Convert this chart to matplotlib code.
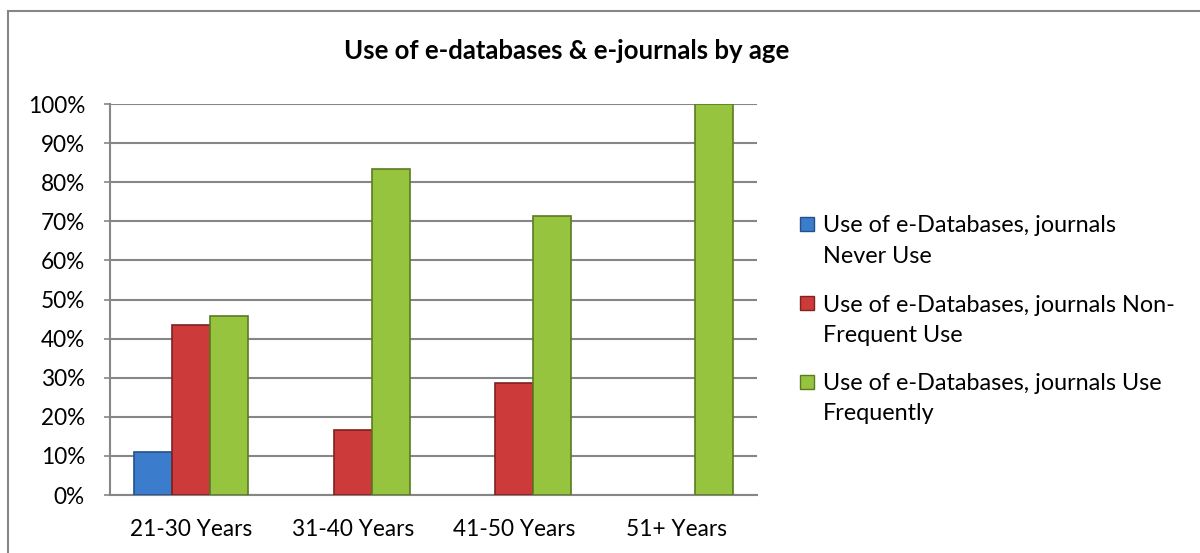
import numpy as np
import matplotlib
matplotlib.use('agg')
import matplotlib.pyplot as plt
from matplotlib.patches import Rectangle

plt.rcParams['font.family'] = ['Lato', 'DejaVu Sans']

# data (percent of each age group)
age_groups = ['21-30 Years', '31-40 Years', '41-50 Years', '51+ Years']
never_use = [10.9, 0, 0, 0]
non_frequent = [43.5, 16.7, 28.6, 0]
use_frequently = [45.7, 83.3, 71.4, 100]
series_labels = [['Use of e-Databases, journals', 'Never Use'],
                 ['Use of e-Databases, journals Non-', 'Frequent Use'],
                 ['Use of e-Databases, journals Use', 'Frequently']]
colors = ['#3b7ccc', '#cc3a3a', '#97c43e']
edges = ['#24508a', '#7e2121', '#5c7a22']

fig = plt.figure(figsize=(12, 5.53), dpi=100)
ax = fig.add_axes([110/1200, 58/553, 647/1200, 391/553])

x = np.arange(len(age_groups))
w = 0.235
for i, vals in enumerate([never_use, non_frequent, use_frequently]):
    bars = ax.bar(x + (i - 1) * w, vals, width=w, color=colors[i],
                  edgecolor=edges[i], linewidth=1.2, zorder=3)
    for b, v in zip(bars, vals):
        if v == 0:
            b.set_visible(False)

ax.set_xlim(-0.5, len(age_groups) - 0.5)
ax.set_ylim(0, 100)
ax.set_yticks(np.arange(0, 101, 10))
ax.set_yticklabels(['%d%%' % v for v in range(0, 101, 10)])
ax.set_xticks(x)
ax.set_xticklabels(age_groups)
ax.yaxis.grid(True, color='#868686', linewidth=1.5, zorder=0)
ax.tick_params(axis='y', length=4, color='#868686', width=1.2, labelsize=16.3, pad=14)
ax.tick_params(axis='x', length=0, labelsize=16.3, pad=17)
for s in ['top', 'right']:
    ax.spines[s].set_visible(False)
for s in ['left', 'bottom']:
    ax.spines[s].set_color('#868686')
    ax.spines[s].set_linewidth(1.5)

fig.text(567/1200, 1 - 51/553, 'Use of e-databases & e-journals by age',
         ha='center', va='center', fontsize=18.5, fontweight='bold')

# legend drawn by hand so the two-line labels sit like the original
for i, (l1, l2) in enumerate(series_labels):
    yc = 224 + i * 79
    fig.patches.append(Rectangle((800/1200, 1 - (yc + 7)/553), 14/1200, 14/553,
                                 transform=fig.transFigure, facecolor=colors[i],
                                 edgecolor=edges[i], linewidth=1.0))
    fig.text(823/1200, 1 - yc/553, l1, ha='left', va='center_baseline', fontsize=16.8)
    fig.text(823/1200, 1 - (yc + 30)/553, l2, ha='left', va='center_baseline', fontsize=16.8)

# outer chart border (right/bottom edges cut off in the original)
fig.patches.append(Rectangle((8/1200, -0.1), 1.2, 1.1 - 11/553,
                             transform=fig.transFigure, fill=False,
                             edgecolor='#868686', linewidth=1.5))

fig.savefig('out.png', dpi=100)
